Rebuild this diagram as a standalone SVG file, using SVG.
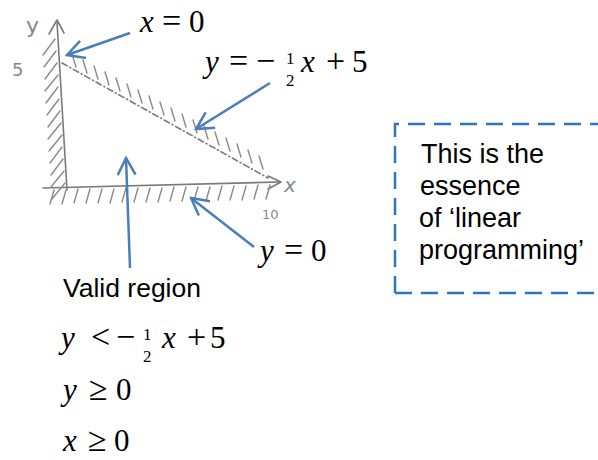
<svg xmlns="http://www.w3.org/2000/svg" width="598" height="460" viewBox="0 0 598 460">
<defs>
<style>
.pencil{fill:none;stroke:#7a7a7a;stroke-width:1.6;stroke-linecap:round;stroke-linejoin:round}
.hatch{fill:none;stroke:#8a8a8a;stroke-width:1.4;stroke-linecap:round}
.arrow{fill:none;stroke:#4a7ebb;stroke-width:2.5;marker-end:url(#ah)}
.math{font-family:"Liberation Serif","Times New Roman",serif;font-size:31px;fill:#000}
.it{font-style:italic}
.op{font-size:34px}
.frac{font-family:"Liberation Serif","Times New Roman",serif;font-size:17px;fill:#000}
.sans{font-family:"Liberation Sans",Arial,sans-serif;fill:#000}
.note{font-size:27px}
</style>
<marker id="ah" viewBox="0 0 20 20" refX="18" refY="10" markerWidth="20" markerHeight="20" markerUnits="userSpaceOnUse" orient="auto">
<path d="M1,1 L18,10 L1,19" fill="none" stroke="#4a7ebb" stroke-width="2.5"/>
</marker>
</defs>
<rect width="598" height="460" fill="#fff"/>
<g id="sketch">
<path class="pencil" d="M57,22 L67,190"/>
<path class="pencil" d="M49,34 L57,20 L64,33"/>
<path class="pencil" d="M43,188 L280,182"/>
<path class="pencil" d="M268,176 L281,182 L268,189"/>
<path class="pencil" d="M62,63 L268,178" stroke-dasharray="6,3,1,3" stroke="#aaa"/>
<g id="yhatch">
<path class="hatch" d="M43,55 L55,39 M44,67 L56,51 M45,79 L57,63 M45,91 L58,75 M46,103 L58,87 M47,115 L59,99 M48,127 L60,111 M48,139 L61,123 M49,151 L62,135 M50,163 L62,147 M51,175 L63,159 M51,187 L64,171 M52,199 L65,183"/>
</g>
<g id="xhatch">
<path class="hatch" d="M50,204 L54,190 M62,204 L66,190 M74,203 L78,189 M86,203 L90,189 M98,203 L102,189 M110,203 L114,189 M122,202 L126,188 M134,202 L138,188 M146,202 L150,188 M158,202 L162,188 M170,201 L174,187 M182,201 L186,187 M194,201 L198,187 M206,201 L210,187 M218,200 L222,186 M230,200 L234,186 M242,200 L246,186 M254,199 L258,185 M266,199 L270,185"/>
</g>
<g id="dhatch">
<path class="hatch" d="M72,54 L76,67 M83,60 L87,73 M94,66 L98,79 M105,72 L109,85 M116,78 L120,91 M127,84 L131,97 M138,90 L142,103 M149,96 L153,109 M160,102 L164,115 M171,108 L175,121 M182,114 L186,127 M193,120 L197,133 M204,126 L208,139 M215,132 L219,145 M226,138 L230,151 M237,144 L241,157 M248,150 L252,163 M259,156 L263,169"/>
</g>
<text x="26" y="33" font-family="'DejaVu Sans',sans-serif" font-size="22" fill="#888">y</text>
<text x="12" y="76" font-family="'DejaVu Sans',sans-serif" font-size="18" fill="#888">5</text>
<text x="284" y="192" font-family="'DejaVu Sans',sans-serif" font-size="20" fill="#888" font-style="italic">x</text>
<text x="262" y="219" font-family="'DejaVu Sans',sans-serif" font-size="13" fill="#888">10</text>
</g>
<g id="connectors">
<path class="arrow" d="M130,33 L67,55"/>
<path class="arrow" d="M270,83 L196,129"/>
<path class="arrow" d="M130,268 L126,158"/>
<path class="arrow" d="M254,247 L191,198"/>
</g>
<g id="label-x0">
<text class="math" y="32"><tspan class="it" x="140">x</tspan><tspan class="op" x="162">=</tspan><tspan x="189">0</tspan></text>
</g>
<g id="label-line">
<text class="math" y="72"><tspan class="it" x="205">y</tspan><tspan class="op" x="229">=</tspan><tspan class="op" x="256">−</tspan><tspan class="it" x="301">x</tspan><tspan class="op" x="326">+</tspan><tspan x="352">5</tspan></text>
<text class="frac" x="286" y="64">1</text>
<text class="frac" x="286" y="86">2</text>
</g>
<g id="label-y0">
<text class="math" y="261"><tspan class="it" x="260">y</tspan><tspan class="op" x="284">=</tspan><tspan x="311">0</tspan></text>
</g>
<g id="valid-region">
<text class="sans" x="63" y="297" font-size="26.5">Valid region</text>
<text class="math" y="348"><tspan class="it" x="61">y</tspan><tspan class="op" x="91">&lt;</tspan><tspan class="op" x="116">−</tspan><tspan class="it" x="162">x</tspan><tspan class="op" x="187">+</tspan><tspan x="210">5</tspan></text>
<text class="frac" x="143" y="340">1</text>
<text class="frac" x="143" y="362">2</text>
<text class="math" y="400"><tspan class="it" x="63">y</tspan><tspan class="op" x="89">≥</tspan><tspan x="116">0</tspan></text>
<text class="math" y="451"><tspan class="it" x="63">x</tspan><tspan class="op" x="88">≥</tspan><tspan x="114">0</tspan></text>
</g>
<g id="note">
<path d="M395,293 L395,124 L600,124 M395,293 L600,293" fill="none" stroke="#2e75c0" stroke-width="2.5" stroke-dasharray="17,9"/>
<text class="sans note" x="421" y="163">This is the</text>
<text class="sans note" x="420" y="195">essence</text>
<text class="sans note" x="419" y="227">of ‘linear</text>
<text class="sans note" x="419" y="259">programming’</text>
</g>
</svg>
